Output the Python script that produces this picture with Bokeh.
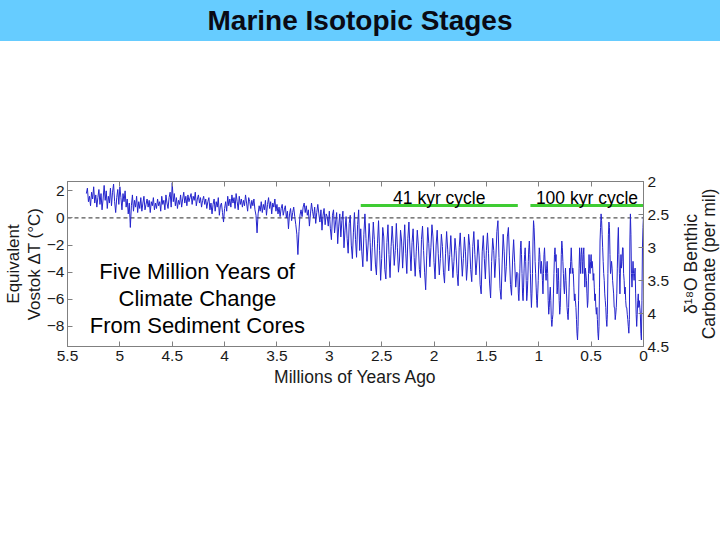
import math
import numpy as np
from bokeh.plotting import figure
from bokeh.models import Range1d, LinearAxis, FixedTicker, PrintfTickFormatter, Span, Label, Div
from bokeh.layouts import column, row
from bokeh.embed import file_html
from bokeh.resources import INLINE

FONT = "Liberation Sans"

title_text = "Marine Isotopic Stages"
x_label = "Millions of Years Ago"
left_label = "Equivalent\nVostok \u0394T (\u00b0C)"
right_label_lines = ["\u03b4\u00b9\u2078O Benthic", "Carbonate (per mil)"]
note_lines = ["Five Million Years of", "Climate Change", "From Sediment Cores"]

x_ticks = [5.5, 5, 4.5, 4, 3.5, 3, 2.5, 2, 1.5, 1, 0.5, 0]
left_ticks = [2, 0, -2, -4, -6, -8]
right_ticks = [2, 2.5, 3, 3.5, 4, 4.5]

cycle_labels = ["41 kyr cycle", "100 kyr cycle"]
cycle_start = [2.70, 1.08]
cycle_end = [1.20, 0.0]

# Temperature-equivalent series (deg C), oldest first
seg1_span = (5.32, 3.01)
seg1 = [
    1.8, 2.2, 1.2, 1.6, 0.9, 1.9, 1.4, 2.3, 1.1, 1.7,
    0.8, 1.5, 2.1, 1.0, 1.8, 0.6, 1.4, 2.4, 1.3, 2.0,
    0.7, 1.6, 1.1, 2.2, 0.9, 1.9, 2.5, 1.2, 0.4, 1.5,
    2.1, 1.0, 2.3, 1.5, 0.6, 1.8, 1.2, 2.0, 0.8, 1.4,
    0.3, 1.1, -0.7, 0.9, 1.7, 0.5, 1.3, 0.8, 1.6, 0.4,
    1.2, 0.7, 1.5, 0.5, 1.1, 1.6, 0.6, 1.0, 1.4, 0.8,
    1.3, 0.4, 1.2, 0.9, 1.5, 0.6, 1.1, 0.7, 1.4, 0.9,
    1.2, 0.5, 1.6, 1.0, 1.3, 0.6, 1.7, 1.1, 0.7, 1.5,
    1.9, 0.8, 2.6, 1.2, 1.8, 0.9, 1.5, 0.7, 1.3, 1.0,
    1.7, 0.8, 1.4, 1.9, 1.1, 1.6, 0.9, 1.7, 1.2, 1.5,
    1.8, 1.0, 1.6, 1.3, 1.9, 0.9, 1.4, 1.7, 1.1, 1.5,
    0.8, 1.3, 1.6, 1.0, 1.4, 0.7, 1.2, 1.5, 0.6, 1.1,
    0.3, 1.0, 1.4, 0.5, 1.2, 0.8, 1.5, 0.2, 0.9, 1.1,
    0.4, -0.3, 0.7, 1.2, 0.5, 1.6, 0.9, 1.4, 0.8, 1.7,
    1.1, 1.5, 0.7, 1.8, 1.2, 0.6, 1.6, 1.0, 1.4, 0.8,
    1.3, 0.9, 1.7, 1.1, 0.5, 1.5, 1.2, 0.7, 1.3, 0.9,
    1.4, 0.6, 0.2, -1.1, 0.3, 0.9, 0.5, 1.2, 0.4, 1.0,
    0.6, 1.3, 0.2, 1.0, 1.5, 0.7, 1.2, 0.3, 1.1, 0.8,
    1.4, 0.5, 1.0, 0.3, 0.8, 0.1, 0.7, 1.0, 0.2, 0.6,
    0.9, 0.0, 0.5, -0.8, 0.3, 0.7, -0.2, 0.4, 0.8, 0.1,
    -0.5, -1.2, -2.7, -1.0, 0.2, 0.6, 0.1, 0.8, 1.1, 0.4,
    0.9, 0.2, 0.6, -0.6, 0.3, 1.1, 0.5, 0.0, 0.8, -0.4,
    0.4, 1.0, 0.3, -0.3, 0.6, -0.9, 0.2, 0.7, -0.5, 0.3,
    0.1, -0.6,
]
seg2_span = (3.00, 2.71)
seg2 = [
    0.5, -0.8, -1.6, 0.2, 0.6, -1.1, -0.3, 0.4, -1.9, -0.6,
    0.3, -1.4, -0.2, 0.5, -2.2, -0.9, 0.1, -1.5, -2.6, -0.4,
    0.2, -2.0, -3.0, -1.1, 0.4, -1.6, -2.9, -0.5, 0.6, -2.4,
]
seg3_span = (2.70, 1.21)
seg3 = [
    -0.8, -2.5, -3.6, -1.2, 0.3, -1.5, -3.2, -2.0, -0.4, -1.8,
    -3.9, -2.2, -0.3, -1.6, -3.4, -4.2, -1.9, -0.2, -2.4, -4.6,
    -3.0, -0.7, -1.4, -3.8, -4.5, -1.8, -0.5, -2.7, -4.4, -2.1,
    -0.6, -1.9, -3.5, -2.4, -0.4, -2.2, -4.0, -3.1, -0.9, -1.7,
    -3.7, -2.0, -0.5, -2.6, -4.1, -1.5, -0.3, -2.3, -3.9, -1.8,
    -0.8, -2.9, -4.3, -2.5, -0.9, -2.0, -3.8, -4.4, -1.6, -0.6,
    -2.4, -4.0, -5.3, -2.8, -0.7, -1.9, -3.6, -2.2, -0.5, -1.4,
    -3.3, -4.5, -2.0, -0.9, -2.6, -4.2, -3.0, -1.2, -2.1, -4.0,
    -4.8, -2.6, -1.0, -2.3, -3.9, -2.7, -1.3, -2.9, -4.4, -3.2,
    -1.5, -2.4, -4.1, -5.0, -2.2, -1.1, -2.8, -4.3, -3.0, -1.4,
    -2.5, -4.6, -3.4, -1.2, -2.0, -3.8, -4.7, -2.1, -1.0, -2.7,
    -4.2, -3.1, -1.6, -2.8, -4.9, -5.6, -2.5, -1.3, -3.0, -4.5,
    -2.4, -1.1, -2.6, -4.8, -5.9, -3.2, -1.5, -2.4, -4.4, -3.0,
    -1.0, -0.2, -2.9, -5.2, -6.0, -3.4, -1.2, -2.5, -4.7, -3.6,
    -1.4, -0.7, -2.8, -4.9, -5.7, -3.1, -1.6, -3.3, -5.1, -4.0,
]
seg4_span = (1.20, 0.0)
seg4 = [
    -4.1, -5.6, -6.1, -5.1, -3.7, -2.2, -1.7, -2.7, -4.1, -5.6,
    -6.1, -5.1, -3.7, -2.7, -2.2, -3.2, -4.6, -6.1, -5.6, -4.6,
    -3.2, -2.2, -1.7, -2.7, -4.1, -5.6, -6.6, -5.6, -4.1, -1.7,
    -0.2, -0.7, -1.7, -3.2, -4.1, -5.1, -6.1, -6.6, -5.6, -4.6,
    -3.2, -2.2, -2.7, -3.7, -4.1, -3.2, -3.7, -4.6, -5.6, -4.1,
    -2.7, -2.2, -3.2, -4.1, -4.6, -3.7, -3.2, -4.1, -6.1, -7.1,
    -6.6, -5.6, -5.1, -6.1, -7.5, -8.0, -7.5, -7.1, -5.6, -4.1,
    -2.7, -2.2, -3.2, -2.7, -4.1, -5.6, -5.1, -3.7, -4.6, -6.1,
    -7.1, -6.6, -5.1, -2.7, -1.7, -2.2, -3.2, -4.1, -5.1, -5.6,
    -4.6, -3.7, -4.6, -5.6, -6.6, -7.1, -7.5, -6.6, -5.1, -3.7,
    -4.1, -3.2, -2.2, -3.2, -4.1, -3.7, -4.1, -5.1, -6.1, -5.6,
    -6.1, -6.6, -7.5, -8.5, -9.0, -8.0, -6.1, -3.7, -2.2, -3.2,
    -4.1, -2.7, -2.2, -3.2, -4.1, -2.7, -2.2, -3.7, -5.1, -3.7,
    -4.1, -4.6, -5.6, -6.6, -6.1, -4.1, -2.7, -3.7, -4.1, -3.2,
    -2.7, -3.7, -3.2, -3.7, -4.6, -4.1, -5.1, -6.1, -5.6, -6.6,
    -7.1, -6.6, -7.5, -8.5, -9.0, -8.0, -5.1, -1.7, -0.7, 0.3,
    -0.2, -1.2, -2.2, -3.2, -4.1, -4.6, -5.6, -6.1, -6.6, -7.5,
    -8.0, -7.1, -4.1, -1.2, -0.3, -0.7, -2.7, -4.1, -3.7, -3.2,
    -3.7, -4.6, -5.1, -5.6, -6.6, -6.6, -7.5, -7.1, -6.6, -5.6,
    -3.7, -1.7, -0.7, -2.7, -4.1, -5.6, -3.7, -2.7, -3.7, -3.2,
    -2.2, -2.2, -4.1, -4.6, -5.6, -5.1, -6.1, -6.6, -6.6, -7.1,
    -7.5, -8.0, -8.5, -7.5, -1.7, 0.3, -1.2, -4.1, -5.1, -4.1,
    -3.2, -4.1, -4.6, -4.1, -3.7, -5.6, -7.1, -8.0, -7.1, -6.1,
    -5.6, -6.6, -6.1, -6.6, -7.1, -8.5, -9.0, -6.1, -2.2, -0.7,
    0.2,
]

segments = [(seg1_span, seg1), (seg2_span, seg2), (seg3_span, seg3), (seg4_span, seg4)]
ages = np.concatenate([np.linspace(s[0], s[1], len(v)) for s, v in segments])
temps = np.concatenate([np.array(v, dtype=float) for s, v in segments])

# ---------- title bar ----------
bar = Div(text=title_text, width=720, height=41,
          styles={"background-color": "#66ccff", "font-family": "'Liberation Sans', Arial, sans-serif",
                  "font-weight": "bold", "font-size": "28px", "text-align": "center",
                  "line-height": "41px", "color": "#0a0a14", "margin": "0", "padding": "0"})

# ---------- main chart ----------
p = figure(width=680, height=499, x_range=Range1d(5.5, 0), y_range=Range1d(-9.48, 2.69),
           toolbar_location=None, output_backend="svg",
           min_border_left=62, min_border_right=37, min_border_top=140, min_border_bottom=194)
p.grid.visible = False
p.outline_line_color = "#808080"
p.background_fill_color = "white"
p.border_fill_color = "white"
p.extra_y_ranges = {"d18o": Range1d(4.5, 2.0)}

GRAY = "#808080"
TXT = "#1a1a1a"


def style(ax, label_size="17px"):
    ax.axis_line_color = GRAY
    ax.major_tick_line_color = GRAY
    ax.major_tick_in = 5
    ax.major_tick_out = 0
    ax.minor_tick_line_color = None
    ax.major_label_text_font = FONT
    ax.major_label_text_font_size = "15.5px"
    ax.major_label_text_color = TXT
    ax.major_label_standoff = 4
    ax.axis_label_text_font = FONT
    ax.axis_label_text_font_size = label_size
    ax.axis_label_text_font_style = "normal"
    ax.axis_label_text_color = TXT
    ax.axis_label_text_line_height = 1.1


xb = p.xaxis[0]
xb.ticker = FixedTicker(ticks=x_ticks)
xb.formatter = PrintfTickFormatter(format="%g")
xb.axis_label = x_label
style(xb, "17.5px")
xb.axis_label_standoff = 3

yl = p.yaxis[0]
yl.ticker = FixedTicker(ticks=left_ticks)
yl.axis_label = left_label
style(yl)
yl.major_label_standoff = 3
yl.axis_label_standoff = 0

yr = LinearAxis(y_range_name="d18o", ticker=FixedTicker(ticks=right_ticks),
                formatter=PrintfTickFormatter(format="%g"))
style(yr)
p.add_layout(yr, "right")

# tick marks along the top edge of the box (no labels there)
xt = LinearAxis(ticker=FixedTicker(ticks=x_ticks))
style(xt)
xt.major_label_text_color = None
p.add_layout(xt, "above")

p.add_layout(Span(location=0, dimension="width", line_color="#555555",
                  line_dash="4 3", line_width=1.2, level="underlay"))

p.line(ages, temps, line_color="#2424cc", line_width=1)

cycle_y = 0.92
p.segment(x0=cycle_start, x1=cycle_end, y0=[cycle_y] * len(cycle_start),
          y1=[cycle_y] * len(cycle_start), line_color="#3fcc33", line_width=3)
for lab, s, e in zip(cycle_labels, cycle_start, cycle_end):
    p.add_layout(Label(x=(s + e) / 2, y=1.45, text=lab, text_align="center",
                       text_baseline="middle", text_font=FONT, text_font_size="17.5px",
                       text_color="black"))

for i, line in enumerate(note_lines):
    p.add_layout(Label(x=4.26, y=-3.95 - 1.99 * i, text=line, text_align="center",
                       text_baseline="middle", text_font=FONT, text_font_size="22px",
                       text_color="black"))

# ---------- right-hand axis title (two lines reading upwards) ----------
side = figure(width=40, height=499, x_range=Range1d(0, 1), y_range=Range1d(0, 1),
              toolbar_location=None, output_backend="svg",
              min_border_left=0, min_border_right=0, min_border_top=140, min_border_bottom=194,
              x_axis_location=None, y_axis_location=None)
side.grid.visible = False
side.outline_line_color = None
side.background_fill_color = "white"
side.border_fill_color = "white"
for xpos, line in zip([0.25, 0.7], right_label_lines):
    side.add_layout(Label(x=xpos, y=0.5, text=line, angle=math.pi / 2, text_align="center",
                          text_baseline="middle", text_font=FONT, text_font_size="17.5px",
                          text_color=TXT))

layout = column(bar, row(p, side))
open("out.html", "w").write(file_html(layout, INLINE))
